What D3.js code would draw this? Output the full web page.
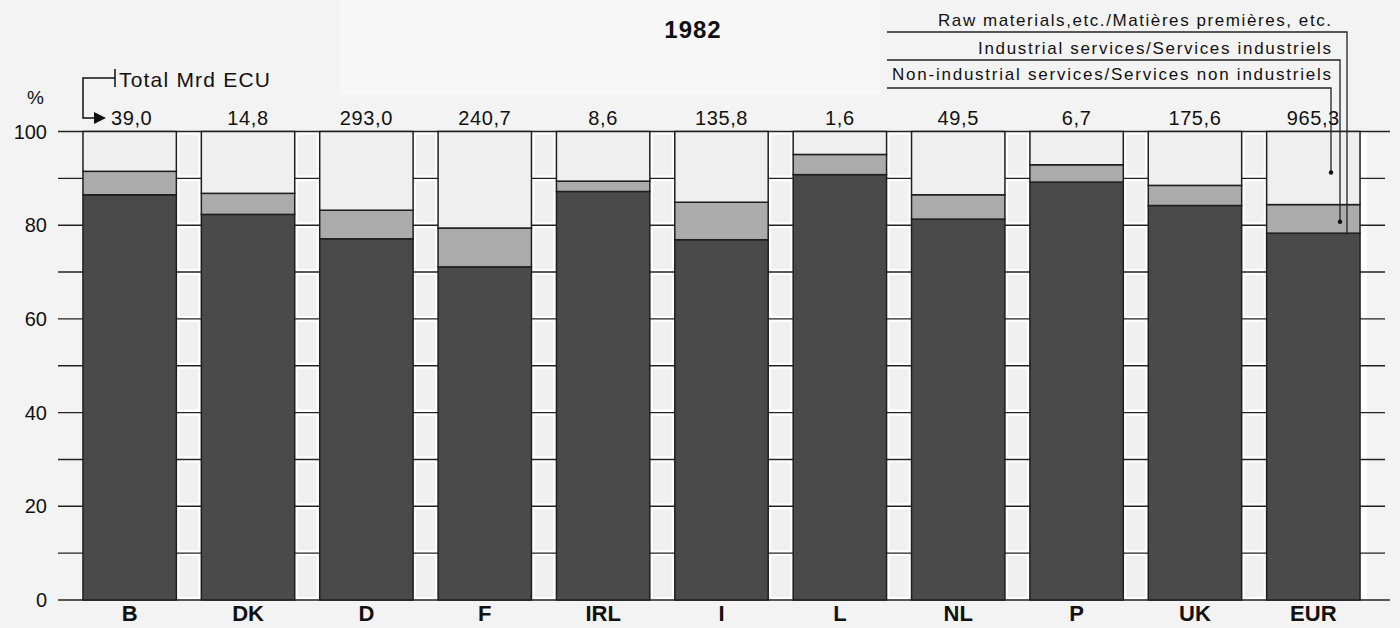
<!DOCTYPE html>
<html><head><meta charset="utf-8">
<script src="https://cdn.jsdelivr.net/npm/d3@7"></script>
<style>
html,body{margin:0;padding:0;background:#f3f3f3;}
svg{display:block;font-family:"Liberation Sans",Arial,Helvetica,sans-serif;}
</style></head>
<body><svg id="chart" width="1400" height="628"></svg>
<script>
const countries = ["B","DK","D","F","IRL","I","L","NL","P","UK","EUR"];
const totals = ["39,0","14,8","293,0","240,7","8,6","135,8","1,6","49,5","6,7","175,6","965,3"];
const rawMaterials = [86.5,82.3,77.1,71.1,87.2,76.9,90.8,81.3,89.2,84.2,78.3];
const industrialServices = [5.0,4.5,6.1,8.3,2.2,8.0,4.3,5.2,3.7,4.3,6.1];
const nonIndustrialServices = [8.5,13.2,16.8,20.6,10.6,15.1,4.9,13.5,7.1,11.5,15.6];
const yTicks = [0,20,40,60,80,100];
const gridTicks = [0,10,20,30,40,50,60,70,80,90,100];
const seriesKeys = ["raw","ind","non"];
const legendLabels = ["Raw materials,etc./Matières premières, etc.","Industrial services/Services industriels","Non-industrial services/Services non industriels"];
const title = "1982";

const rows = countries.map((c,i)=>({c, raw:rawMaterials[i], ind:industrialServices[i], non:nonIndustrialServices[i]}));
const colors = {raw:"#4a4a4a", ind:"#ababab", non:"#efefef"};

const svg = d3.select("#chart");
const x = d3.scaleBand().domain(countries).range([58,1385]).padding(0.211);
const y = d3.scaleLinear().domain([0,100]).range([600,131.5]);

// background tones
svg.append("rect").attr("x",0).attr("y",0).attr("width",1400).attr("height",628).attr("fill","#f3f3f3");
svg.append("rect").attr("x",340).attr("y",0).attr("width",540).attr("height",95).attr("fill","#f7f7f7");

// gap boxes between bars
const gaps = countries.slice(0,-1).map((c,i)=>({x0:x(c)+x.bandwidth(), x1:x(countries[i+1])}));
const decades = d3.range(0,100,10);
gaps.forEach(g=>{
  svg.append("g").selectAll("rect").data(decades).join("rect")
    .attr("x",g.x0+1.5).attr("width",g.x1-g.x0-3)
    .attr("y",d=>y(d+10)+1.5).attr("height",d=>y(d)-y(d+10)-3)
    .attr("fill","#f0f0f0").attr("stroke","#ffffff").attr("stroke-width",3);
});
// right outer strip
svg.append("rect").attr("x",x("EUR")+x.bandwidth()+1).attr("y",y(100)).attr("width",6).attr("height",y(0)-y(100)).attr("fill","#ffffff");

// grid lines every 10%
svg.append("g").selectAll("line").data(gridTicks).join("line")
  .attr("x1",58).attr("x2",d=> (d===100||d===0)?1390:1385)
  .attr("y1",d=>y(d)).attr("y2",d=>y(d))
  .attr("stroke","#222").attr("stroke-width",d=>(d===100||d===0)?1.6:1.4);

// stacked bars
const stack = d3.stack().keys(seriesKeys)(rows);
const layers = svg.append("g").selectAll("g").data(stack).join("g").attr("fill",d=>colors[d.key]);
layers.selectAll("rect").data(d=>d).join("rect")
  .attr("x",d=>x(d.data.c)).attr("width",x.bandwidth())
  .attr("y",d=>y(d[1])).attr("height",d=>y(d[0])-y(d[1]))
  .attr("stroke","#1e1e1e").attr("stroke-width",1.5);

// y axis labels
svg.append("g").selectAll("text").data(yTicks).join("text")
  .attr("x",47).attr("y",d=>y(d)+7).attr("text-anchor","end")
  .attr("font-size",20).attr("fill","#111").text(d=>d);
svg.append("text").attr("x",27).attr("y",104).attr("font-size",19).attr("fill","#111").text("%");

// totals
svg.append("g").selectAll("text").data(countries).join("text")
  .attr("x",(d,i)=> i===0 ? x(d)+x.bandwidth()/2+2 : x(d)+x.bandwidth()/2)
  .attr("y",125).attr("text-anchor","middle").attr("font-size",20).attr("letter-spacing",0.6)
  .attr("fill","#111").text((d,i)=>totals[i]);

// Total Mrd ECU bracket
svg.append("text").attr("x",119).attr("y",87).attr("font-size",21).attr("letter-spacing",1.2).attr("fill","#111").text("Total Mrd ECU");
svg.append("path").attr("d","M115,69 V87 M115,78 H83 V118 H96").attr("fill","none").attr("stroke","#111").attr("stroke-width",1.5);
svg.append("path").attr("d","M94,112 L106,118 L94,124 Z").attr("fill","#111");

// title
svg.append("text").attr("x",693).attr("y",38).attr("text-anchor","middle").attr("font-size",24).attr("font-weight","bold").attr("letter-spacing",1).attr("fill","#111").text(title);

// legend
const legY = [26,54,80];
const lineY = [32,60,88];
const legX = [1347,1340,1331];
const endY = [y(rawMaterials[10]-0.3), y(rawMaterials[10]+industrialServices[10]*0.4), y(100-nonIndustrialServices[10]*0.56)];
const textLen = [393,353,439];
legendLabels.forEach((t,i)=>{
  svg.append("text").attr("x",1331).attr("y",legY[i]).attr("text-anchor","end")
    .attr("font-size",17).attr("fill","#111").attr("textLength",textLen[i]).attr("lengthAdjust","spacing").text(t);
  svg.append("path").attr("d",`M887,${lineY[i]} H${legX[i]} V${endY[i]}`).attr("fill","none").attr("stroke","#222").attr("stroke-width",1.3);
  if(i>0) svg.append("circle").attr("cx",legX[i]).attr("cy",endY[i]).attr("r",2.2).attr("fill","#111");
});

// x labels
svg.append("g").selectAll("text").data(countries).join("text")
  .attr("x",d=>x(d)+x.bandwidth()/2).attr("y",621).attr("text-anchor","middle")
  .attr("font-size",22).attr("font-weight","bold").attr("fill","#111").text(d=>d);
</script></body></html>
